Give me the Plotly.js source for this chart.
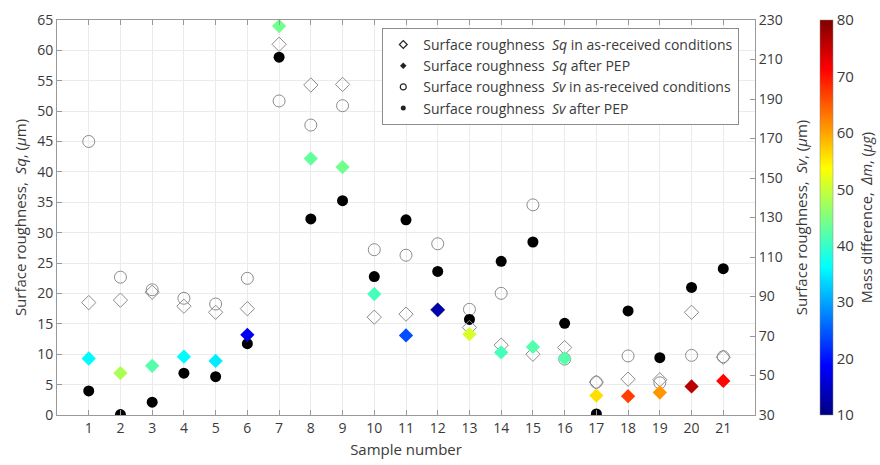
<!DOCTYPE html>
<html>
<head>
<meta charset="utf-8">
<script src="https://cdn.plot.ly/plotly-3.0.1.min.js"></script>
<style>html,body{margin:0;padding:0;background:#fff;}#chart{width:880px;height:465px;}</style>
</head>
<body>
<div id="chart"></div>
<script>
// ---- data ----
const samples = [1,2,3,4,5,6,7,8,9,10,11,12,13,14,15,16,17,18,19,20,21];
const sqAsReceived = [18.5,18.9,20.2,17.9,16.9,17.5,61.0,54.3,54.4,16.1,16.6,17.3,14.4,11.5,10.0,11.1,5.4,5.9,5.8,16.9,9.5];
const sqAfterPEP   = [9.3,6.9,8.1,9.6,8.9,13.2,64.0,42.2,40.8,19.9,13.1,17.3,13.3,10.3,11.2,9.3,3.2,3.1,3.7,4.7,5.6];
const svAsReceived = [168.5,99.8,93.4,89.1,86.2,99.2,189.0,176.8,186.6,113.7,110.9,116.7,83.5,91.6,136.4,58.3,46.6,59.9,46.3,60.2,59.5];
const svAfterPEP   = [42.2,30.2,36.5,51.2,49.4,66.1,211.2,129.3,138.5,100.1,128.8,102.7,78.4,107.8,117.6,76.4,30.5,82.7,59.0,94.6,104.1];
const massDifference = [36,48,42,36,35,18,44,43,44,41,24,13,51,41,42,42,56,67,61,76,71];
const xTicks = samples;
const sqTicks = [0,5,10,15,20,25,30,35,40,45,50,55,60,65];
const svTicks = [30,50,70,90,110,130,150,170,190,210,230];
const cbTicks = [10,20,30,40,50,60,70,80];
const legendNames = [
  'Surface roughness  <i>Sq</i> in as-received conditions',
  'Surface roughness  <i>Sq</i> after PEP',
  'Surface roughness  <i>Sv</i> in as-received conditions',
  'Surface roughness  <i>Sv</i> after PEP'
];

const jet = [[0,'rgb(0,0,128)'],[0.125,'rgb(0,0,255)'],[0.375,'rgb(0,255,255)'],[0.625,'rgb(255,255,0)'],[0.875,'rgb(255,0,0)'],[1,'rgb(128,0,0)']];
const FONT = '"Open Sans", "Noto Sans", sans-serif';
const TXT = '#3a3a3a';
const GRAY = '#8c8c8c';

const traces = [
  // Sv on base y axis (right side)
  {x: samples, y: svAsReceived, yaxis:'y', mode:'markers', showlegend:false, hoverinfo:'skip',
   marker:{symbol:'circle-open', size:12, color:GRAY, line:{width:1, color:GRAY}}},
  {x: samples, y: svAfterPEP, yaxis:'y', mode:'markers', showlegend:false, hoverinfo:'skip',
   marker:{symbol:'circle', size:11, color:'#000'}},
  // Sq on overlay axis (left side)
  {x: samples, y: sqAsReceived, xaxis:'x', yaxis:'y2', mode:'markers', showlegend:false, hoverinfo:'skip',
   marker:{symbol:'diamond-open', size:11, color:GRAY, line:{width:1, color:GRAY}}},
  {x: samples, y: sqAfterPEP, xaxis:'x', yaxis:'y2', mode:'markers', showlegend:false, hoverinfo:'skip',
   marker:{symbol:'diamond', size:11, color: massDifference, colorscale: jet, cmin:10, cmax:80,
     showscale:true,
     colorbar:{x:1.093, xanchor:'left', xpad:0, y:0.5, yanchor:'middle', len:1, lenmode:'fraction',
       thickness:13, ypad:0, outlinewidth:0.5, outlinecolor:'#888',
       tickvals: cbTicks, ticks:'', ticklabelpad:6, tickfont:{family:FONT, size:15, color:TXT},
       title:{text:''}}}},
  // legend entries
  {x:[null], y:[null], yaxis:'y2', mode:'markers', name: legendNames[0], marker:{symbol:'diamond-open', size:6, color:'#222', line:{width:1.2}}},
  {x:[null], y:[null], yaxis:'y2', mode:'markers', name: legendNames[1], marker:{symbol:'diamond', size:5, color:'#222'}},
  {x:[null], y:[null], yaxis:'y2', mode:'markers', name: legendNames[2], marker:{symbol:'circle-open', size:6, color:'#222', line:{width:1.2}}},
  {x:[null], y:[null], yaxis:'y2', mode:'markers', name: legendNames[3], marker:{symbol:'circle', size:5, color:'#222'}}
];

const layout = {
  width:880, height:465,
  margin:{l:57, r:125, t:20, b:50},
  paper_bgcolor:'#fff', plot_bgcolor:'#fff',
  font:{family:FONT, size:14, color:TXT},
  showlegend:true,
  legend:{x:0.466, xanchor:'left', y:0.98, yanchor:'top', bgcolor:'#fff', bordercolor:'#8c8c8c', borderwidth:1,
    font:{family:FONT, size:14, color:TXT}, tracegroupgap:0, itemwidth:30},
  xaxis:{range:[0,22], tickvals:xTicks, ticks:'inside', ticklen:5, tickcolor:'#999', mirror:'ticks',
    showline:true, linecolor:'#999', linewidth:1, showgrid:true, gridcolor:'#ebebeb', zeroline:false,
    tickfont:{family:FONT, size:14, color:TXT},
    title:{text:'Sample number', font:{family:FONT, size:15, color:TXT}, standoff:8}},
  yaxis:{range:[30,230], tickvals:svTicks, side:'right', ticks:'inside', ticklen:5, tickcolor:'#999',
    showline:true, linecolor:'#999', showgrid:false, zeroline:false,
    tickfont:{family:FONT, size:14, color:TXT},
    title:{text:'Surface roughness,  <i>Sv</i>, (<i>μ</i>m)', font:{family:FONT, size:15, color:TXT}, standoff:14}},
  yaxis2:{range:[0,65], tickvals:sqTicks, side:'left', overlaying:'y', ticks:'inside', ticklen:5, tickcolor:'#999',
    showline:true, linecolor:'#999', showgrid:true, gridcolor:'#ebebeb', zeroline:false,
    tickfont:{family:FONT, size:14, color:TXT},
    title:{text:'Surface roughness,  <i>Sq</i>, (<i>μ</i>m)', font:{family:FONT, size:15, color:TXT}, standoff:6}},
  annotations:[{text:'Mass difference,  <i>Δm</i>, (<i>μg</i>)', xref:'paper', yref:'paper', x:1.16, y:0.5,
    xanchor:'center', yanchor:'middle', textangle:-90, showarrow:false, font:{family:FONT, size:14.5, color:TXT}}]
};

Plotly.newPlot('chart', traces, layout, {staticPlot:true, displayModeBar:false});
</script>
</body>
</html>
